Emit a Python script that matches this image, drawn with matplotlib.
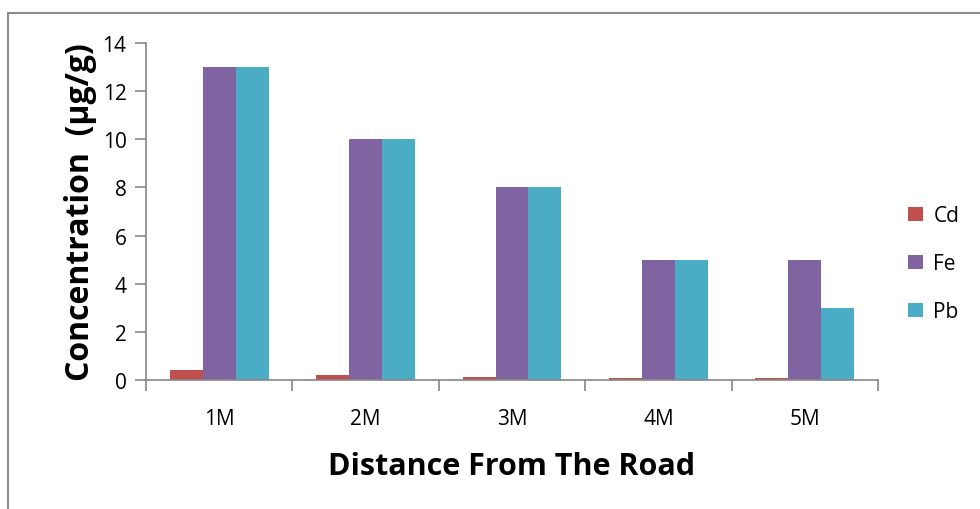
import numpy as np
import matplotlib.pyplot as plt
from matplotlib.patches import Rectangle

# metal concentration (ug/g) at increasing distance from the road
distances = ["1M", "2M", "3M", "4M", "5M"]
cd = [0.4, 0.2, 0.14, 0.08, 0.08]
fe = [13, 10, 8, 5, 5]
pb = [13, 10, 8, 5, 3]

series = [("Cd", cd, "#C0504D"), ("Fe", fe, "#8064A2"), ("Pb", pb, "#4BACC6")]

plt.rcParams['font.family'] = ['Open Sans', 'DejaVu Sans']

fig = plt.figure(figsize=(9.8, 5.1), dpi=100)
ax = fig.add_axes([146/980, 1 - 381/510, (878 - 146)/980, (381 - 44)/510])

# outer chart frame, cut off at the right and bottom
fig.patches.append(Rectangle((8/980, -0.1), 1.1, 1 - 14/510 + 0.1,
                             transform=fig.transFigure, fill=False,
                             edgecolor="#8c8c8c", linewidth=1.5))

x = np.arange(len(distances))
width = 0.225
for i, (name, vals, color) in enumerate(series):
    ax.bar(x + (i - 1)*width, vals, width, color=color, label=name,
           edgecolor="none", zorder=2)

ax.set_xlim(-0.5, len(distances) - 0.5)
ax.set_ylim(0, 14)
ax.set_yticks(np.arange(0, 15, 2))
ax.set_xticks(x)
ax.set_xticklabels(distances)
ax.set_xticks(np.arange(-0.5, len(distances), 1), minor=True)
ax.tick_params(axis="x", which="major", length=0, labelsize=15, pad=20)
ax.tick_params(axis="x", which="minor", length=8, color="#868686", width=1.2)
ax.tick_params(axis="y", length=8, color="#868686", width=1.2, labelsize=15, pad=6)

for side in ["top", "right"]:
    ax.spines[side].set_visible(False)
for side in ["left", "bottom"]:
    ax.spines[side].set_color("#868686")
    ax.spines[side].set_linewidth(1.2)

ax.set_ylabel("Concentration  (µg/g)", fontsize=23, fontweight="bold", labelpad=4)
ax.set_xlabel("Distance From The Road", fontsize=22, fontweight="bold", labelpad=16)

ax.legend(loc="center left", bbox_to_anchor=(1.03, 0.345), frameon=False,
          fontsize=15, handlelength=0.7, handleheight=0.7, labelspacing=1.3,
          handletextpad=0.5, borderaxespad=0)

fig.savefig("out.png", dpi=100)
